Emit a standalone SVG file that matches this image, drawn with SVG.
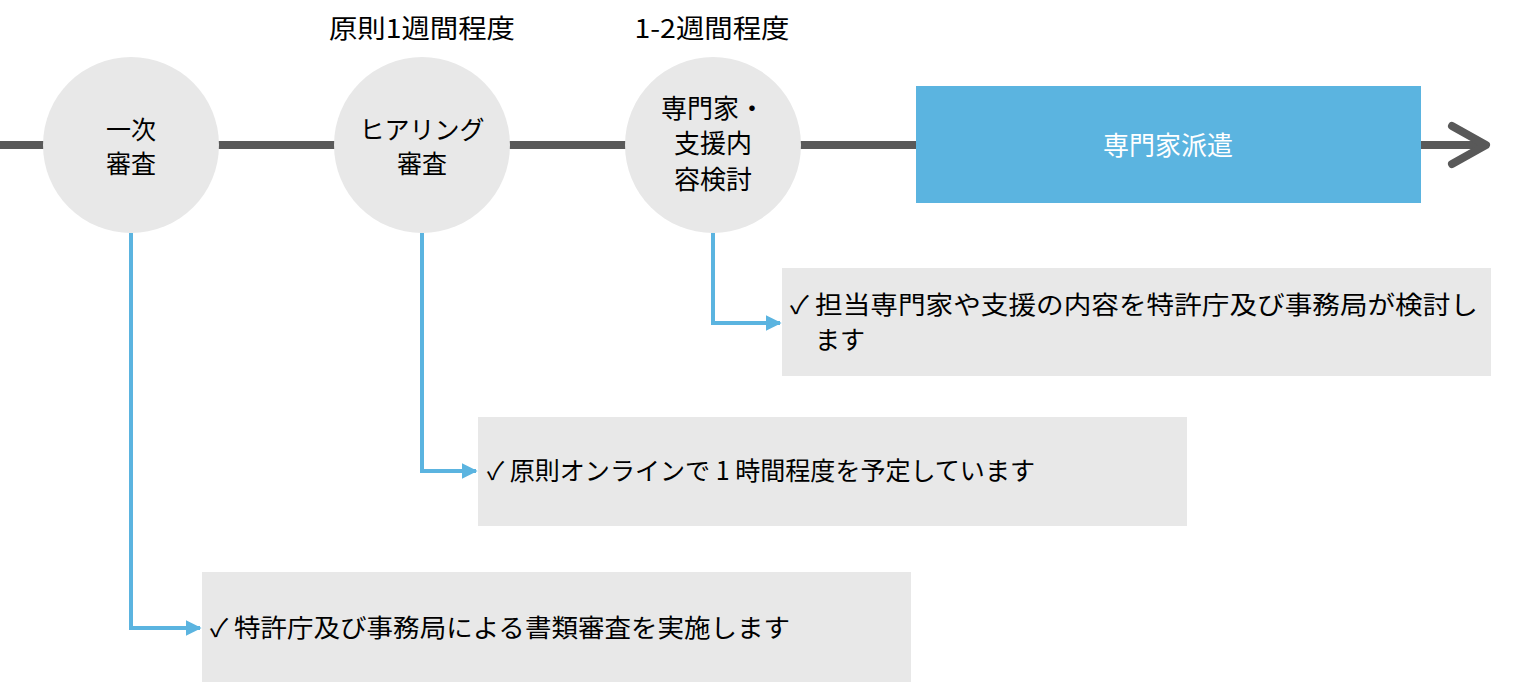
<svg xmlns="http://www.w3.org/2000/svg" width="1530" height="682" viewBox="0 0 1530 682">
<style>
.jp{font-family:"Noto Sans CJK JP","Noto Sans",sans-serif;fill:#000}
.c{font-size:26px;text-anchor:middle}
.c2{font-size:25px;text-anchor:middle}
.b{font-size:25px}
.h{font-size:26px;text-anchor:middle}
.circ{fill:#e8e8e8}
.box{fill:#e8e8e8}
.conn{fill:none;stroke:#5bb4e0;stroke-width:4}
</style>
<defs>
<marker id="ah" viewBox="0 0 10 10" refX="9" refY="5" markerWidth="4" markerHeight="4" markerUnits="strokeWidth" orient="auto">
<path d="M0,0 L10,5 L0,10 z" fill="#5bb4e0"/>
</marker>
</defs>
<g id="timeline">
<line x1="0" y1="145" x2="1484" y2="145" stroke="#595959" stroke-width="8"/>
<polyline points="1452,126 1486,145 1452,164" fill="none" stroke="#595959" stroke-width="8" stroke-linecap="round" stroke-linejoin="round"/>
</g>
<g id="connectors">
<polyline class="conn" points="131,233 131,628 200,628" marker-end="url(#ah)"/>
<polyline class="conn" points="422,233 422,471 476,471" marker-end="url(#ah)"/>
<polyline class="conn" points="713,233 713,323 780,323" marker-end="url(#ah)"/>
</g>
<g id="label-1week">
<text class="jp h" x="422" y="38" textLength="186" lengthAdjust="spacingAndGlyphs">原則1週間程度</text>
</g>
<g id="label-2week">
<text class="jp h" x="712" y="38" textLength="155" lengthAdjust="spacingAndGlyphs">1-2週間程度</text>
</g>
<g id="node-ichiji">
<circle class="circ" cx="131" cy="145" r="88"/>
<text class="jp c2"><tspan x="131" y="139">一次</tspan><tspan x="131" y="173">審査</tspan></text>
</g>
<g id="node-hearing">
<circle class="circ" cx="422" cy="145" r="88"/>
<text class="jp c2"><tspan x="422" y="139">ヒアリング</tspan><tspan x="422" y="173">審査</tspan></text>
</g>
<g id="node-kento">
<circle class="circ" cx="713" cy="145" r="88"/>
<text class="jp c"><tspan x="713" y="118">専門家・</tspan><tspan x="713" y="153">支援内</tspan><tspan x="713" y="189">容検討</tspan></text>
</g>
<g id="node-haken">
<rect x="916" y="86" width="505" height="117" fill="#5bb4e0"/>
<text class="jp c" x="1168" y="155" style="fill:#fff" font-size="27">専門家派遣</text>
</g>
<g id="box-kento">
<rect class="box" x="782" y="268" width="709" height="108"/>
<text class="jp b"><tspan x="790" y="314" textLength="688" lengthAdjust="spacingAndGlyphs">✓ 担当専門家や支援の内容を特許庁及び事務局が検討し</tspan><tspan x="815" y="349">ます</tspan></text>
</g>
<g id="box-hearing">
<rect class="box" x="478" y="417" width="709" height="109"/>
<text class="jp b" x="487" y="480" textLength="548" lengthAdjust="spacingAndGlyphs">✓ 原則オンラインで 1 時間程度を予定しています</text>
</g>
<g id="box-ichiji">
<rect class="box" x="202" y="572" width="709" height="110"/>
<text class="jp b" x="210" y="637" textLength="580" lengthAdjust="spacingAndGlyphs">✓ 特許庁及び事務局による書類審査を実施します</text>
</g>
</svg>
